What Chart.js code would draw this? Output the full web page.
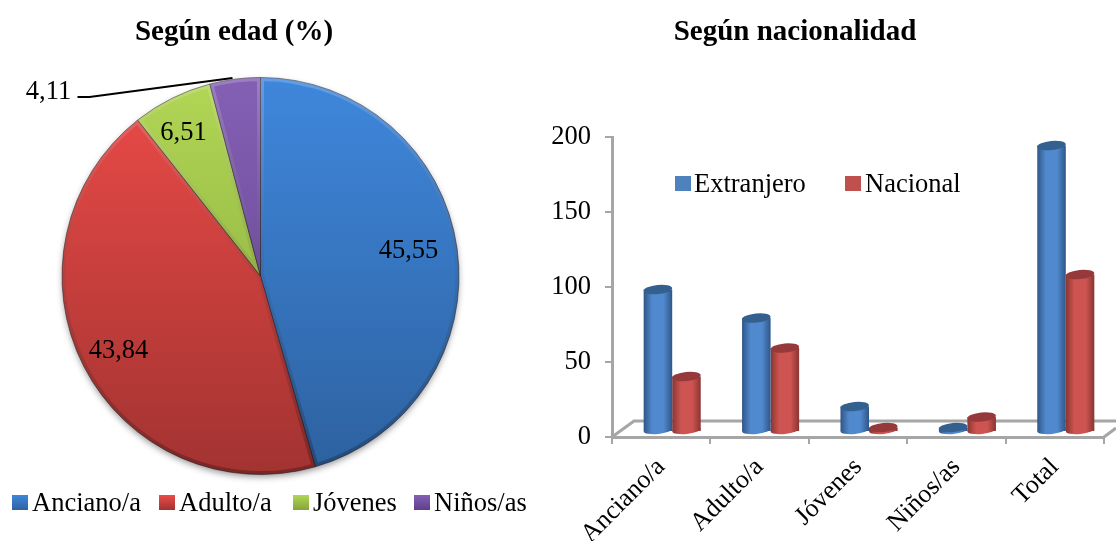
<!DOCTYPE html>
<html>
<head>
<meta charset="utf-8">
<style>
    html, body { margin: 0; background: #fff; }
    body { width: 1116px; height: 541px; position: relative; overflow: hidden; font-family: "Liberation Serif", serif; color: #000; }
    canvas { position: absolute; top: 0; }
    .title { position: absolute; top: 14px; font-size: 29px; font-weight: bold; white-space: nowrap; transform: translateX(-50%); }
    .legend { position: absolute; font-size: 26.5px; line-height: 30px; white-space: nowrap; }
    .legend span { position: absolute; top: 0; }
    .legend i { position: absolute; width: 16px; height: 15px; top: 8px; }
</style>
</head>
<body>
<canvas id="pieChart" width="530" height="541" style="left:0;width:530px;height:541px"></canvas>
<canvas id="barChart" width="586" height="541" style="left:530px;width:586px;height:541px"></canvas>
<div class="title" style="left:234px">Según edad (%)</div>
<div class="title" style="left:795px">Según nacionalidad</div>
<div class="legend" id="pieLegend" style="left:0;top:487px"></div>
<div class="legend" id="barLegend" style="left:0;top:168px"></div>
<script src="https://cdn.jsdelivr.net/npm/chart.js@4/dist/chart.umd.min.js"></script>
<script>
const ageLabels = ['Anciano/a', 'Adulto/a', 'Jóvenes', 'Niños/as'];
const ageValues = [45.55, 43.84, 6.51, 4.11];
const ageTexts = ['45,55', '43,84', '6,51', '4,11'];

const nationLabels = ['Anciano/a', 'Adulto/a', 'Jóvenes', 'Niños/as', 'Total'];
const extranjeroValues = [95, 76, 17, 3, 191];
const nacionalValues = [37, 56, 3, 10, 105];
const yTicks = [0, 50, 100, 150, 200];

const pieTop = ['#3f87dc', '#ec4b48', '#b2d655', '#8460b4'];
const pieBottom = ['#2d619f', '#a23331', '#83a53a', '#5f3f8a'];
const pieLegendLeft = [12, 159, 293, 414];
const serif = '"Liberation Serif", serif';

// pie: shadow below, bevel on each slice, then the value labels
const piePlugin = {
    id: 'pieLook',
    beforeDatasetsDraw(chart) {
        const arc = chart.getDatasetMeta(0).data[0];
        const ctx = chart.ctx;
        ctx.save();
        ctx.shadowColor = 'rgba(0,0,0,0.45)';
        ctx.shadowBlur = 7;
        ctx.shadowOffsetY = 3;
        ctx.fillStyle = '#555';
        ctx.beginPath();
        ctx.arc(arc.x, arc.y, arc.outerRadius - 1, 0, Math.PI * 2);
        ctx.fill();
        ctx.restore();
    },
    afterDatasetsDraw(chart) {
        const ctx = chart.ctx;
        const meta = chart.getDatasetMeta(0);
        meta.data.forEach((arc) => {
            const r = arc.outerRadius;
            const path = new Path2D();
            path.moveTo(arc.x, arc.y);
            path.arc(arc.x, arc.y, r, arc.startAngle, arc.endAngle);
            path.closePath();
            const bevel = ctx.createLinearGradient(0, arc.y - r, 0, arc.y + r);
            bevel.addColorStop(0, 'rgba(255,255,255,0.2)');
            bevel.addColorStop(0.5, 'rgba(60,60,60,0.12)');
            bevel.addColorStop(1, 'rgba(0,0,0,0.25)');
            ctx.save();
            ctx.clip(path);
            ctx.strokeStyle = bevel;
            ctx.lineWidth = 7;
            ctx.stroke(path);
            ctx.restore();
        });
        const c = meta.data[0];
        const spots = [[148, -25], [-142, 75], [-77, -143], [-212, -184]];
        ctx.save();
        ctx.font = '26.5px ' + serif;
        ctx.fillStyle = '#000';
        ctx.textAlign = 'center';
        ctx.textBaseline = 'middle';
        ageTexts.forEach((t, i) => ctx.fillText(t, c.x + spots[i][0], c.y + spots[i][1]));
        ctx.strokeStyle = '#000';
        ctx.lineWidth = 2;
        ctx.beginPath();
        ctx.moveTo(c.x - 183, c.y - 179);
        ctx.lineTo(c.x - 171, c.y - 179);
        ctx.lineTo(c.x - 28, c.y - 198);
        ctx.stroke();
        ctx.restore();
    }
};

new Chart(document.getElementById('pieChart'), {
    type: 'pie',
    data: {
        labels: ageLabels,
        datasets: [{
            data: ageValues,
            backgroundColor(context) {
                const area = context.chart.chartArea;
                if (!area) return pieTop[context.dataIndex];
                const g = context.chart.ctx.createLinearGradient(0, area.top, 0, area.bottom);
                g.addColorStop(0, pieTop[context.dataIndex]);
                g.addColorStop(1, pieBottom[context.dataIndex]);
                return g;
            },
            borderColor: 'rgba(40,30,40,0.55)',
            borderWidth: 1
        }]
    },
    options: {
        responsive: false,
        animation: false,
        layout: { padding: { left: 61, right: 70, top: 77, bottom: 66 } },
        plugins: { legend: { display: false }, tooltip: { enabled: false } }
    },
    plugins: [piePlugin]
});

// bars sit inside the 3D floor, so they are shifted off the axis plane
const barShift = { x: 11, y: -5 };
const barDark = ['#2f5687', '#8a3532'];
const barMid = ['#5089cd', '#cd5450'];
const barTop = ['#33608f', '#96393a'];
const barShare = 0.58;

function cylinderFill(context) {
    const chart = context.chart;
    const i = context.datasetIndex;
    if (!chart.chartArea) return barMid[i];
    const x = chart.scales.x;
    const step = chart.chartArea.width / nationLabels.length;
    const w = step * barShare / 2;
    const left = x.getPixelForValue(context.dataIndex) + (i === 0 ? -w : 0);
    const g = chart.ctx.createLinearGradient(left, 0, left + w, 0);
    g.addColorStop(0, barDark[i]);
    g.addColorStop(0.3, barMid[i]);
    g.addColorStop(0.7, barMid[i]);
    g.addColorStop(1, barDark[i]);
    return g;
}

const barPlugin = {
    id: 'cylinders',
    beforeDatasetsDraw(chart) {
        const { ctx, chartArea: a } = chart;
        ctx.save();
        ctx.strokeStyle = '#a6a6a6';
        ctx.lineWidth = 3;
        ctx.beginPath();
        ctx.moveTo(a.left, a.bottom);
        ctx.lineTo(a.left + 22, a.bottom - 16);
        ctx.lineTo(a.right + 12, a.bottom - 16);
        ctx.moveTo(a.right, a.bottom);
        ctx.lineTo(a.right + 12, a.bottom - 9);
        ctx.stroke();
        ctx.restore();
    },
    beforeDatasetDraw(chart, args) {
        const meta = chart.getDatasetMeta(args.index);
        const ctx = chart.ctx;
        ctx.save();
        ctx.translate(barShift.x, barShift.y);
        meta.data.forEach((bar) => {
            ctx.fillStyle = cylinderFill({ chart, datasetIndex: args.index, dataIndex: bar.$context.dataIndex });
            ctx.beginPath();
            ctx.ellipse(bar.x, bar.base - 1, bar.width / 2, 4, -0.1, 0, Math.PI * 2);
            ctx.fill();
        });
    },
    afterDatasetDraw(chart, args) {
        const meta = chart.getDatasetMeta(args.index);
        const ctx = chart.ctx;
        meta.data.forEach((bar) => {
            ctx.fillStyle = barTop[args.index];
            ctx.beginPath();
            ctx.ellipse(bar.x, bar.y, bar.width / 2, 4.5, -0.1, 0, Math.PI * 2);
            ctx.fill();
        });
        ctx.restore();
    }
};

new Chart(document.getElementById('barChart'), {
    type: 'bar',
    data: {
        labels: nationLabels,
        datasets: [
            { label: 'Extranjero', data: extranjeroValues, backgroundColor: cylinderFill, clip: false },
            { label: 'Nacional', data: nacionalValues, backgroundColor: cylinderFill, clip: false }
        ]
    },
    options: {
        responsive: false,
        animation: false,
        layout: { padding: { left: 0, right: 12, top: 137, bottom: 0 } },
        datasets: { bar: { categoryPercentage: barShare, barPercentage: 1 } },
        scales: {
            x: {
                afterFit(scale) { scale.height = 104; scale.paddingLeft = 0; scale.paddingRight = 0; },
                border: { color: '#a6a6a6', width: 3 },
                grid: { drawOnChartArea: false, color: '#a6a6a6', lineWidth: 2, tickLength: 7 },
                ticks: {
                    color: '#000',
                    font: { family: serif, size: 26 },
                    minRotation: 45,
                    maxRotation: 45,
                    padding: 8,
                    autoSkip: false
                }
            },
            y: {
                min: 0,
                max: 200,
                afterFit(scale) { scale.width = 82; },
                afterBuildTicks(scale) { scale.ticks = yTicks.map((value) => ({ value })); },
                border: { color: '#a6a6a6', width: 3 },
                grid: { drawOnChartArea: false, color: '#a6a6a6', lineWidth: 2, tickLength: 7 },
                ticks: { color: '#000', font: { family: serif, size: 26.5 }, padding: 14 }
            }
        },
        plugins: { legend: { display: false }, tooltip: { enabled: false } }
    },
    plugins: [barPlugin]
});

// html legends so box and text spacing can follow the reference
const pieLegend = document.getElementById('pieLegend');
ageLabels.forEach((name, i) => {
    pieLegend.innerHTML += '<i style="left:' + pieLegendLeft[i] + 'px;background:linear-gradient(' + pieTop[i] + ',' + pieBottom[i] + ')"></i>'
        + '<span style="left:' + (pieLegendLeft[i] + 20) + 'px">' + name + '</span>';
});
const barLegend = document.getElementById('barLegend');
barLegend.innerHTML = '<i style="left:675px;background:#4f81bd"></i><span style="left:694px">Extranjero</span>'
    + '<i style="left:845px;background:#c0504d"></i><span style="left:865px">Nacional</span>';
</script>
</body>
</html>
